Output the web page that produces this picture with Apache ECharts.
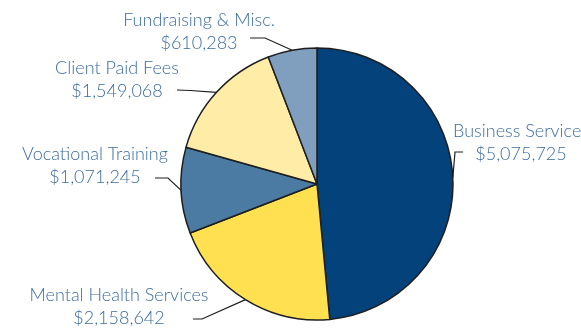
<!DOCTYPE html>
<html>
<head>
<meta charset="utf-8">
<script src="https://cdn.jsdelivr.net/npm/echarts@6/dist/echarts.min.js"></script>
<style>
html,body{margin:0;padding:0;background:#fff;}
#c{width:581px;height:331px;}
</style>
</head>
<body>
<div id="c"></div>
<script>
var categories = ['Business Services', 'Mental Health Services', 'Vocational Training', 'Client Paid Fees', 'Fundraising & Misc.'];
var values = [5075725, 2158642, 1071245, 1549068, 610283];

var colors = ['#03427a', '#ffe050', '#4b7aa3', '#ffeca6', '#809fbf'];
// label block centres and leader-line elbows (layout only)
var labelPos = [[521, 142.5], [119, 307], [95, 165.5], [117, 80], [199, 31.5]];
var elbows = [[[455, 152], [463, 152]], [[202, 319], [193, 319]], [[168, 178], [155, 178]], [[190, 90.5], [177, 90]], [[265, 38], [250, 38]]];

function fmt(v) { return '$' + v.toString().replace(/\B(?=(\d{3})+(?!\d))/g, ','); }

var chart = echarts.init(document.getElementById('c'), null, {renderer: 'canvas'});
chart.setOption({
  animation: false,
  series: [{
    type: 'pie',
    center: [317, 184],
    radius: 136,
    startAngle: 90,
    clockwise: true,
    data: categories.map(function (n, i) { return {name: n, value: values[i], itemStyle: {color: colors[i]}}; }),
    itemStyle: {borderColor: '#1e1e1e', borderWidth: 1.5},
    label: {
      show: true,
      formatter: function (p) { return p.name + '\n' + fmt(p.value); },
      color: '#3d6d9e',
      fontFamily: 'Lato',
      fontSize: 18,
      fontWeight: 300,
      lineHeight: 23,
      align: 'center',
      overflow: 'none',
      edgeDistance: 0
    },
    labelLine: {show: true, lineStyle: {color: '#1e1e1e', width: 1.2}, length: 10, length2: 10},
    labelLayout: function (p) {
      var i = p.dataIndex;
      var start = p.labelLinePoints ? p.labelLinePoints[0] : null;
      var pts = start ? [start, elbows[i][0], elbows[i][1]] : undefined;
      return {
        x: labelPos[i][0],
        y: labelPos[i][1],
        align: 'center',
        verticalAlign: 'middle',
        labelLinePoints: pts
      };
    }
  }]
});
</script>
</body>
</html>
